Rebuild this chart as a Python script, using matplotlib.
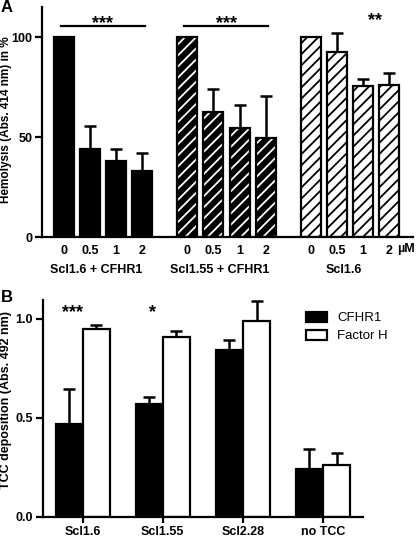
import numpy as np
import matplotlib.pyplot as plt
import matplotlib.transforms as mtransforms

plt.rcParams['font.family'] = ['Liberation Sans', 'DejaVu Sans']
plt.rcParams['hatch.linewidth'] = 1.3

# Panel A data
conc_labels = ["0", "0.5", "1", "2"]
group_names = ["Scl1.6 + CFHR1", "Scl1.55 + CFHR1", "Scl1.6"]
hemo_cfhr1 = [100, 44.2, 38, 33]
hemo_cfhr1_err = [0, 11.3, 5.8, 9.2]
hemo_scl155 = [100, 62.3, 54.5, 49.7]
hemo_scl155_err = [0, 11.5, 11.3, 21.0]
hemo_scl16 = [100, 92.5, 75.5, 75.8]
hemo_scl16_err = [0, 9.7, 3.7, 6.2]
sig_a = ["***", "***", "**"]

# Panel B data
tcc_groups = ["Scl1.6", "Scl1.55", "Scl2.28", "no TCC"]
tcc_cfhr1 = [0.469, 0.567, 0.840, 0.239]
tcc_cfhr1_err = [0.177, 0.037, 0.054, 0.103]
tcc_fh = [0.948, 0.906, 0.990, 0.261]
tcc_fh_err = [0.022, 0.033, 0.098, 0.063]
sig_b = ["***", "*", "", ""]

W, H = 416, 538
fig = plt.figure(figsize=(W / 100, H / 100), dpi=100)


def px_axes(l, t, r, b):
    return fig.add_axes([l / W, 1 - b / H, (r - l) / W, (b - t) / H])


def style(ax):
    for s in ["top", "right"]:
        ax.spines[s].set_visible(False)
    for s in ["left", "bottom"]:
        ax.spines[s].set_linewidth(1.6)
    ax.tick_params(width=1.6, length=5, labelsize=9, pad=2)
    for lab in ax.get_yticklabels() + ax.get_xticklabels():
        lab.set_fontweight("bold")


# ---------- Panel A ----------
axA = px_axes(42, 7, 413, 237)
gap = 1.7
offsets = [0, 4 + gap - 1, 8 + 2 * (gap - 1)]
xa = np.arange(4)
bw = 0.76
lw = 1.6
series = [(hemo_cfhr1, hemo_cfhr1_err), (hemo_scl155, hemo_scl155_err),
          (hemo_scl16, hemo_scl16_err)]
all_pos = []
for gi, (vals, errs) in enumerate(series):
    pos = xa + offsets[gi]
    all_pos.extend(pos)
    if gi == 0:
        axA.bar(pos, vals, bw, color="black", edgecolor="black", linewidth=lw, zorder=2)
    elif gi == 1:
        axA.bar(pos, vals, bw, color="black", edgecolor="white", hatch="///",
                linewidth=0, zorder=2)
        axA.bar(pos, vals, bw, color="none", edgecolor="black", linewidth=lw, zorder=3)
    else:
        axA.bar(pos, vals, bw, color="white", edgecolor="black", hatch="///",
                linewidth=lw, zorder=2)
    e = np.array(errs)
    m = e > 0
    axA.errorbar(pos[m], np.array(vals)[m], yerr=[np.zeros(m.sum()), e[m]],
                 fmt="none", ecolor="black", elinewidth=1.8, capsize=4.5,
                 capthick=1.8, zorder=1)
    center = pos.mean()
    axA.annotate(group_names[gi], xy=(center - 0.25, 0),
                 xycoords=("data", "axes fraction"), xytext=(0, -24),
                 textcoords="offset points", ha="center", va="center",
                 fontsize=9, fontweight="bold")

# significance
for gi in range(2):
    pos = xa + offsets[gi]
    axA.plot([pos[0] - 0.1, pos[-1] + 0.1], [105.5, 105.5], color="black", lw=1.6)
    axA.text(pos.mean(), 106.5, sig_a[gi], ha="center", va="center",
             fontsize=13, fontweight="bold")
axA.text(xa[2] + offsets[2] + 0.45, 108, sig_a[2], ha="center", va="center",
         fontsize=13, fontweight="bold")

axA.set_xlim(-0.82, 13.3)
axA.set_ylim(0, 115)
axA.set_yticks([0, 50, 100])
axA.set_xticks(all_pos)
axA.set_xticklabels(conc_labels * 3)
axA.set_ylabel("Hemolysis (Abs. 414 nm) in %", fontsize=8.5, fontweight="bold")
axA.yaxis.set_label_coords((12.5 - 42) / 371, 0.51)
style(axA)
axA.tick_params(axis="x", length=0, pad=6)
trA = mtransforms.blended_transform_factory(axA.transData, axA.transAxes)
axA.annotate("µM", xy=(all_pos[-1] + 0.3, 0), xycoords=trA, xytext=(0, -8.3),
             textcoords="offset points", ha="left", va="center",
             fontsize=9, fontweight="bold")

# ---------- Panel B ----------
axB = px_axes(42.7, 300, 363, 516.7)
xb = np.arange(len(tcc_groups))
bwb = 0.34
axB.bar(xb - bwb / 2, tcc_cfhr1, bwb, color="black", edgecolor="black",
        linewidth=lw, label="CFHR1", zorder=2)
axB.bar(xb + bwb / 2, tcc_fh, bwb, color="white", edgecolor="black",
        linewidth=lw, label="Factor H", zorder=2)
axB.errorbar(xb - bwb / 2, tcc_cfhr1, yerr=[np.zeros(4), tcc_cfhr1_err],
             fmt="none", ecolor="black", elinewidth=1.8, capsize=4.5,
             capthick=1.8, zorder=1)
axB.errorbar(xb + bwb / 2, tcc_fh, yerr=[np.zeros(4), tcc_fh_err],
             fmt="none", ecolor="black", elinewidth=1.8, capsize=4.5,
             capthick=1.8, zorder=1)
for i, s in enumerate(sig_b):
    if s:
        axB.text(xb[i] - 0.13, 1.03, s, ha="center", va="center",
                 fontsize=13, fontweight="bold")
axB.set_xlim(-0.5, 3.5)
axB.set_ylim(0, 1.094)
axB.set_yticks([0.0, 0.5, 1.0])
axB.set_yticklabels(["0.0", "0.5", "1.0"])
axB.set_xticks(xb)
axB.set_xticklabels(tcc_groups)
axB.set_ylabel("TCC deposition (Abs. 492 nm)", fontsize=9, fontweight="bold")
axB.yaxis.set_label_coords((12.5 - 42.7) / 320.3, 0.54)
style(axB)
axB.tick_params(axis="x", length=4, pad=3)
axB.legend(loc="upper left", bbox_to_anchor=(0.805, 0.97), frameon=False,
           fontsize=9.5, handlelength=1.6, handleheight=0.8,
           handletextpad=0.8, labelspacing=0.4, borderaxespad=0)

fig.text(1 / W, 1 - 7 / H, "A", fontsize=12, fontweight="bold", va="center")
fig.text(1 / W, 1 - 297 / H, "B", fontsize=12, fontweight="bold", va="center")

fig.savefig("out.png", dpi=100)
